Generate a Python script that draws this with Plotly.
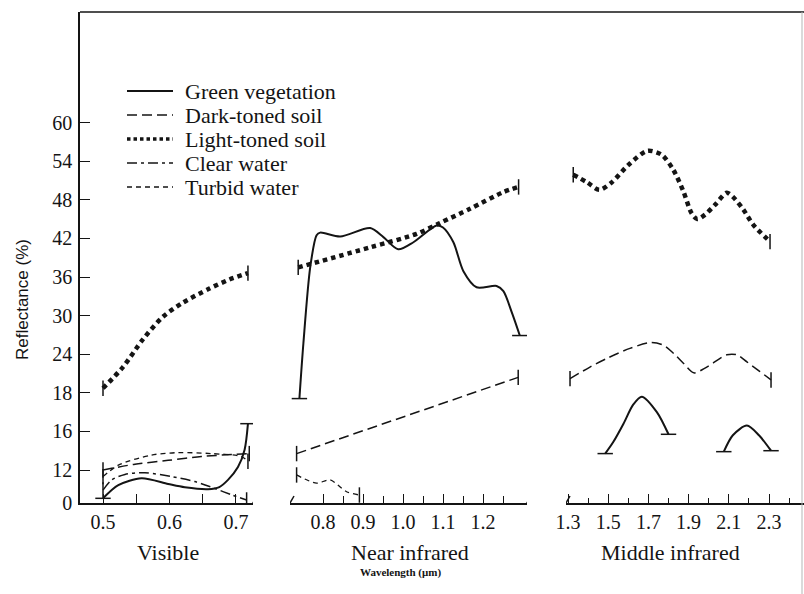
import numpy as np
import plotly.graph_objects as go

INK = "#141414"
SERIF = "Liberation Serif, Times New Roman, serif"

# ---- y axis: labels are equally spaced on the original (non-linear scale) ----
Y_TICK_VALUES = [0, 12, 16, 18, 24, 30, 36, 42, 48, 54, 60]
Y_TICK_SLOTS = [0.0] + [0.855 + i for i in range(10)]

# ---- x tick labels per spectral region ----
X_VIS_TICKS = [0.5, 0.6, 0.7]
X_VIS_MINOR = [0.55, 0.65]
X_NIR_TICKS = [0.8, 0.9, 1.0, 1.1, 1.2]
X_NIR_MINOR = [0.85, 0.95, 1.05, 1.15, 1.25]
X_MIR_TICKS = [1.3, 1.5, 1.7, 1.9, 2.1, 2.3]
X_MIR_MINOR = [1.4, 1.6, 1.8, 2.0, 2.2, 2.4]

# ---- Green vegetation ----
green_vis_x = [0.50, 0.523, 0.558, 0.598, 0.623, 0.658, 0.675, 0.688, 0.703, 0.713, 0.718]
green_vis_y = [1.7, 6.5, 9.0, 6.9, 5.7, 5.0, 5.8, 8.4, 12.3, 14.1, 16.4]
green_nir_x = [0.741, 0.751, 0.768, 0.784, 0.793, 0.843, 0.918, 0.951, 0.988, 1.026,
               1.084, 1.100, 1.126, 1.151, 1.184, 1.234, 1.251, 1.272, 1.292]
green_nir_y = [17.7, 25.7, 37.5, 42.5, 42.9, 42.3, 43.6, 42.2, 40.3, 41.4,
               44.0, 43.7, 41.4, 36.9, 34.4, 34.6, 33.8, 30.5, 26.9]
green_mir1_x = [1.485, 1.525, 1.576, 1.625, 1.667, 1.742, 1.800]
green_mir1_y = [13.7, 14.9, 16.4, 17.4, 17.8, 17.0, 15.7]
green_mir2_x = [2.075, 2.120, 2.190, 2.250, 2.310]
green_mir2_y = [13.9, 15.6, 16.3, 15.6, 14.0]

# ---- Dark-toned soil ----
dark_vis_x = [0.50, 0.548, 0.598, 0.648, 0.720]
dark_vis_y = [12.0, 12.6, 13.0, 13.4, 13.7]
dark_nir_x = [0.734, 1.288]
dark_nir_y = [13.7, 20.4]
dark_mir_x = [1.31, 1.409, 1.49, 1.608, 1.71, 1.774, 1.826, 1.874, 1.926, 1.99,
              2.09, 2.14, 2.19, 2.255, 2.31]
dark_mir_y = [20.2, 22.0, 23.3, 24.9, 25.8, 25.4, 24.1, 22.6, 21.1, 22.0,
              23.9, 23.9, 22.8, 21.3, 20.0]

# ---- Light-toned soil ----
light_vis_x = [0.50, 0.53, 0.56, 0.59, 0.62, 0.66, 0.69, 0.718]
light_vis_y = [18.7, 22.0, 26.3, 29.8, 32.0, 34.2, 35.6, 36.6]
light_nir_x = [0.738, 0.9175, 1.034, 1.0925, 1.1675, 1.251, 1.289]
light_nir_y = [37.5, 40.6, 42.7, 44.4, 46.6, 49.2, 50.0]
light_mir_x = [1.326, 1.396, 1.456, 1.517, 1.600, 1.695, 1.766, 1.824, 1.874, 1.915,
               1.943, 1.982, 2.031, 2.090, 2.122, 2.172, 2.222, 2.305]
light_mir_y = [51.9, 50.7, 49.55, 50.7, 53.4, 55.6, 55.0, 52.65, 49.3, 45.9,
               45.0, 45.7, 47.2, 49.1, 48.4, 46.5, 44.1, 41.5]

# ---- Clear water ----
clear_vis_x = [0.50, 0.513, 0.533, 0.563, 0.603, 0.638, 0.668, 0.694, 0.716]
clear_vis_y = [4.7, 8.4, 10.4, 11.0, 9.6, 7.8, 5.3, 2.9, 1.1]

# ---- Turbid water ----
turbid_vis_x = [0.50, 0.523, 0.573, 0.613, 0.663, 0.708, 0.718]
turbid_vis_y = [9.6, 12.5, 13.55, 13.8, 13.7, 13.4, 12.9]
turbid_nir_x = [0.734, 0.784, 0.8175, 0.859, 0.891]
turbid_nir_y = [10.2, 7.2, 8.4, 4.1, 2.9]


def to_slot(values):
    return np.interp(values, Y_TICK_VALUES, Y_TICK_SLOTS)


STYLES = {
    "Green vegetation": dict(width=2.0, dash="solid", end="line-ew"),
    "Dark-toned soil": dict(width=1.5, dash="10px,5px", end="line-ns"),
    "Light-toned soil": dict(width=4.5, dash="4.5px,4px", end="line-ns"),
    "Clear water": dict(width=1.5, dash="10px,4px,3px,4px", end="line-ns"),
    "Turbid water": dict(width=1.3, dash="5px,4px", end="line-ns"),
}

segments = [
    ("Green vegetation", "x", green_vis_x, green_vis_y),
    ("Green vegetation", "x2", green_nir_x, green_nir_y),
    ("Green vegetation", "x3", green_mir1_x, green_mir1_y),
    ("Green vegetation", "x3", green_mir2_x, green_mir2_y),
    ("Dark-toned soil", "x", dark_vis_x, dark_vis_y),
    ("Dark-toned soil", "x2", dark_nir_x, dark_nir_y),
    ("Dark-toned soil", "x3", dark_mir_x, dark_mir_y),
    ("Light-toned soil", "x", light_vis_x, light_vis_y),
    ("Light-toned soil", "x2", light_nir_x, light_nir_y),
    ("Light-toned soil", "x3", light_mir_x, light_mir_y),
    ("Clear water", "x", clear_vis_x, clear_vis_y),
    ("Turbid water", "x", turbid_vis_x, turbid_vis_y),
    ("Turbid water", "x2", turbid_nir_x, turbid_nir_y),
]

fig = go.Figure()
for name, axis, xs, ys in segments:
    st = STYLES[name]
    fig.add_trace(go.Scatter(
        x=xs, y=to_slot(ys), xaxis=axis, yaxis="y", mode="lines", name=name,
        line=dict(color=INK, width=st["width"], dash=st["dash"], shape="spline", smoothing=0.8),
        showlegend=False, hoverinfo="skip"))
    fig.add_trace(go.Scatter(
        x=[xs[0], xs[-1]], y=to_slot([ys[0], ys[-1]]), xaxis=axis, yaxis="y",
        mode="markers", name=name, showlegend=False, hoverinfo="skip",
        marker=dict(symbol=st["end"], size=11, color=INK, line=dict(width=1.5, color=INK))))

# ---- layout geometry (pixels) ----
W, H = 804, 594
ML, MR, MT, MB = 80, 0, 12, 91
PW, PH = W - ML - MR, H - MT - MB


def px_x(p):
    return (p - ML) / PW


def px_y(p):
    return (H - MB - p) / PH


TICKFONT = dict(family=SERIF, size=20, color=INK)
common_x = dict(showline=True, linecolor=INK, linewidth=1.5, ticks="inside", ticklen=9,
                tickwidth=1.3, tickcolor=INK, showgrid=False, zeroline=False,
                tickfont=TICKFONT, anchor="y", fixedrange=True)

fig.update_layout(
    width=W, height=H, margin=dict(l=ML, r=MR, t=MT, b=MB),
    paper_bgcolor="white", plot_bgcolor="white", showlegend=False,
    font=dict(family=SERIF, color=INK),
    xaxis=dict(domain=[0, px_x(253)], range=[0.4654, 0.7256], tickvals=X_VIS_TICKS,
               ticktext=[f"{v:.1f}" for v in X_VIS_TICKS],
               minor=dict(tickvals=X_VIS_MINOR, ticks="inside", ticklen=9, tickwidth=1.3, tickcolor=INK),
               **common_x),
    xaxis2=dict(domain=[px_x(290), px_x(527)], range=[0.7175, 1.31], tickvals=X_NIR_TICKS,
                ticktext=[f"{v:.1f}" for v in X_NIR_TICKS],
                minor=dict(tickvals=X_NIR_MINOR, ticks="inside", ticklen=7, tickwidth=1.3, tickcolor=INK),
                **common_x),
    xaxis3=dict(domain=[px_x(566), 1.0], range=[1.29, 2.474], tickvals=X_MIR_TICKS,
                ticktext=[f"{v:.1f}" for v in X_MIR_TICKS],
                minor=dict(tickvals=X_MIR_MINOR, ticks="inside", ticklen=5, tickwidth=1.3, tickcolor=INK),
                **common_x),
    yaxis=dict(domain=[0, 1], range=[0, (H - MB - MT) / 38.6], tickvals=Y_TICK_SLOTS,
               ticktext=[str(v) for v in Y_TICK_VALUES], showline=True, linecolor=INK,
               linewidth=1.5, ticks="inside", ticklen=10, tickwidth=1.3, tickcolor=INK,
               showgrid=False, zeroline=False, tickfont=TICKFONT, ticklabelstandoff=2,
               anchor="x", fixedrange=True),
)

shapes = []
# top frame and faint right edge
shapes.append(dict(type="line", xref="paper", yref="paper", x0=0, x1=1, y0=1, y1=1,
                   line=dict(color=INK, width=1.5)))
shapes.append(dict(type="line", xref="paper", yref="paper", x0=px_x(802), x1=px_x(802), y0=1,
                   y1=px_y(594), line=dict(color="#b5b5b5", width=1)))
# axis-break slashes
for axref, xpos in [("x", 0.7256), ("x2", 0.7175), ("x2", 1.31), ("x3", 1.29)]:
    shapes.append(dict(type="line", xref=axref, yref="y", xsizemode="pixel", ysizemode="pixel",
                       xanchor=xpos, yanchor=0, x0=-4, x1=4, y0=-7, y1=7,
                       line=dict(color=INK, width=1.5)))

# legend (drawn manually to match the original spacing)
legend_rows = [("Green vegetation", 91), ("Dark-toned soil", 115), ("Light-toned soil", 139),
               ("Clear water", 163), ("Turbid water", 187)]
legend_width = {"Light-toned soil": 3.5}
legend_dash = {"Light-toned soil": "3.5px,3px"}
annotations = []
for name, py in legend_rows:
    st = STYLES[name]
    shapes.append(dict(type="line", xref="paper", yref="paper", x0=px_x(127), x1=px_x(173),
                       y0=px_y(py), y1=px_y(py),
                       line=dict(color=INK, width=legend_width.get(name, st["width"]),
                                 dash=legend_dash.get(name, st["dash"]))))
    annotations.append(dict(x=px_x(183), y=px_y(py), xref="paper", yref="paper", text=name,
                            showarrow=False, xanchor="left", yanchor="middle",
                            font=dict(family=SERIF, size=22, color=INK)))

for text, cx in [("Visible", 168), ("Near infrared", 410), ("Middle infrared", 670)]:
    annotations.append(dict(x=px_x(cx), y=px_y(552), xref="paper", yref="paper", text=text,
                            showarrow=False, xanchor="center", yanchor="middle",
                            font=dict(family=SERIF, size=22, color=INK)))

annotations.append(dict(x=px_x(22), y=px_y(300), xref="paper", yref="paper", text="Reflectance (%)",
                        textangle=-90, showarrow=False, xanchor="center", yanchor="middle",
                        font=dict(family="Liberation Sans", size=17, color=INK)))
annotations.append(dict(x=px_x(400), y=px_y(572), xref="paper", yref="paper",
                        text="<b>Wavelength (μm)</b>", showarrow=False, xanchor="center",
                        yanchor="middle", font=dict(family=SERIF, size=11, color=INK)))

fig.update_layout(shapes=shapes, annotations=annotations)
fig.write_html("out.html")
